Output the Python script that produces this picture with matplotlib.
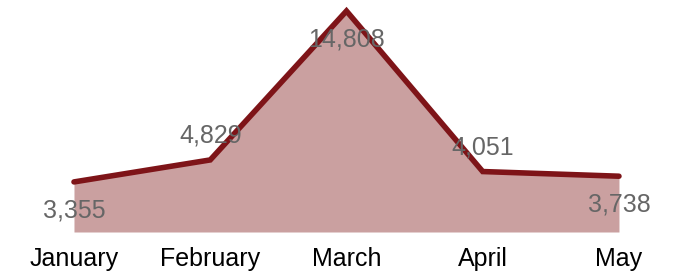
import matplotlib.pyplot as plt

months = ["January", "February", "March", "April", "May"]
values = [3355, 4829, 14808, 4051, 3738]
# label above (+1) or below (-1) the point
label_side = [-1, 1, -1, 1, -1]

plt.rcParams['font.family'] = ['Liberation Sans', 'DejaVu Sans']

fig = plt.figure(figsize=(6.83, 2.78), dpi=100)
ax = fig.add_axes([0, 46/278, 1, 232/278])

x = list(range(len(months)))
ax.fill_between(x, values, 0, color="#caa0a0", linewidth=0)
ax.plot(x, values, color="#7e1418", lw=4, solid_capstyle="round", solid_joinstyle="miter")

for xi, v, s in zip(x, values, label_side):
    off = 17.5 if s > 0 else -20.5
    ax.annotate(f"{v:,}", (xi, v), xytext=(0, off), textcoords="offset points",
                ha="center", va="center", fontsize=18, color="#666666")

ax.set_xlim(-0.543, 4.47)
ax.set_ylim(0, 14808 * 232 / 221)
ax.set_xticks(x)
ax.set_xticklabels(months, fontsize=18, color="black")
ax.tick_params(axis="x", length=0, pad=11)
ax.set_yticks([])
for sp in ax.spines.values():
    sp.set_visible(False)

fig.savefig("out.png", dpi=100)
